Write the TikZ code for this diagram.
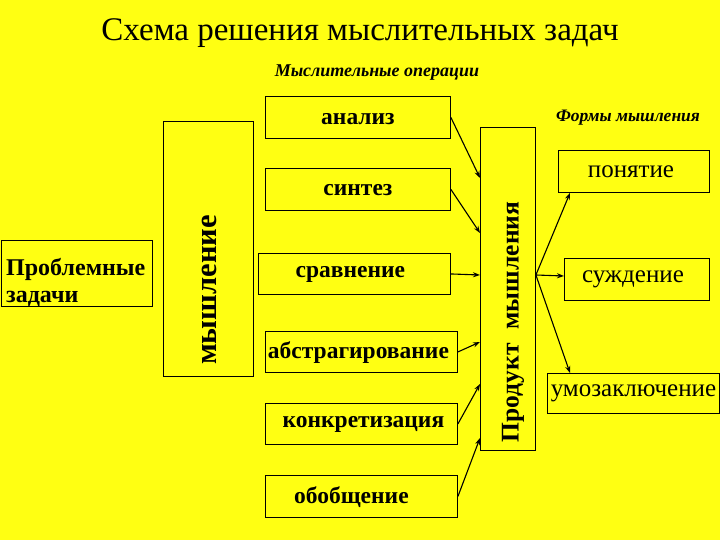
\documentclass[tikz,border=0pt]{standalone}
\usepackage{fontspec}
\setmainfont{LiberationSerif}[Extension=.ttf,UprightFont=*-Regular,BoldFont=*-Bold,ItalicFont=*-Italic,BoldItalicFont=*-BoldItalic]
\usetikzlibrary{arrows.meta,calc}
\definecolor{bgyel}{RGB}{255,255,18}
\newcommand{\fs}[1]{\fontsize{#1}{#1}\selectfont}
\begin{document}
\begin{tikzpicture}[x=1pt,y=-1pt,
  box/.style={draw=black,line width=0.9pt,rectangle,inner sep=0pt,anchor=north west},
  op/.style={box},
  form/.style={box},
  optext/.style={font=\fs{23.5}\bfseries},
  formtext/.style={font=\fs{25}},
  arr/.style={line width=1.1pt,-{Stealth[length=7pt,width=5pt]}}]
\fill[bgyel] (0,0) rectangle (720,540);
\useasboundingbox (0,0) rectangle (720,540);
% titles
\node (title) at (360,33) {\fs{33}Схема решения мыслительных задач};
\node (ops) at (377,73) {\fs{18}\bfseries\itshape Мыслительные операции};
\node (forms) at (628,118) {\fs{17.5}\bfseries\itshape Формы мышления};
% left
\node[box,minimum width=151,minimum height=66] (prob) at (0.5,240) {};
\node[anchor=west,align=left,font=\fs{24}\bfseries,inner sep=0pt] (probt) at (6,282)
  {Проблемные\\[3pt]задачи};
\node[box,minimum width=90,minimum height=255] (mysh) at (163,121) {};
\node[rotate=90,font=\fs{30.5}\bfseries] (myshT) at (209,290) {мышление};
% operations
\node[op,minimum width=185,minimum height=42] (an) at (265,96) {};
\node[optext] at ($(an.center)+(0,2)$) {анализ};
\node[op,minimum width=185,minimum height=42] (sin) at (265,168) {};
\node[optext] at ($(sin.center)+(0,1)$) {синтез};
\node[op,minimum width=192,minimum height=41] (sr) at (258,253) {};
\node[optext] at ($(sr.center)+(-4,1)$) {сравнение};
\node[op,minimum width=192,minimum height=41] (abs) at (265,331) {};
\node[optext] at ($(abs.center)+(-3,1)$) {абстрагирование};
\node[op,minimum width=192,minimum height=41] (kon) at (265,403) {};
\node[optext] at ($(kon.center)+(2,1)$) {конкретизация};
\node[op,minimum width=192,minimum height=42] (obo) at (265,475) {};
\node[optext] at ($(obo.center)+(-10,1)$) {обобщение};
% product
\node[box,minimum width=55,minimum height=323] (prod) at (480,127) {};
\node[rotate=90,font=\fs{25.5}\bfseries] (prodT) at (513,322) {Продукт\hspace{14pt}мышления};
% forms
\node[form,minimum width=151,minimum height=42] (pon) at (558,150) {};
\node[formtext] at ($(pon.center)+(-3,0)$) {понятие};
\node[form,minimum width=145,minimum height=42] (sud) at (564,258) {};
\node[formtext] at ($(sud.center)+(-4,0)$) {суждение};
\node[form,minimum width=172,minimum height=40] (umo) at (547,373) {};
\node[formtext] at (umo.center) {умозаключение};
% arrows into product
\draw[arr] (an.east) -- ($(prod.north west)+(0,51)$);
\draw[arr] (sin.east) -- ($(prod.north west)+(0,106)$);
\draw[arr] (sr.east) -- ($(prod.north west)+(0,148)$);
\draw[arr] (abs.east) -- ($(prod.north west)+(0,215)$);
\draw[arr] (kon.east) -- ($(prod.north west)+(0,257)$);
\draw[arr] (obo.east) -- ($(prod.north west)+(0,311)$);
% arrows out of product
\coordinate (po) at ($(prod.north east)+(0,148)$);
\draw[arr] (po) -- ($(pon.south west)+(12,0)$);
\draw[arr] (po) -- ($(sud.north west)+(0,18)$);
\draw[arr] (po) -- ($(umo.north west)+(23,0)$);
\end{tikzpicture}
\end{document}
